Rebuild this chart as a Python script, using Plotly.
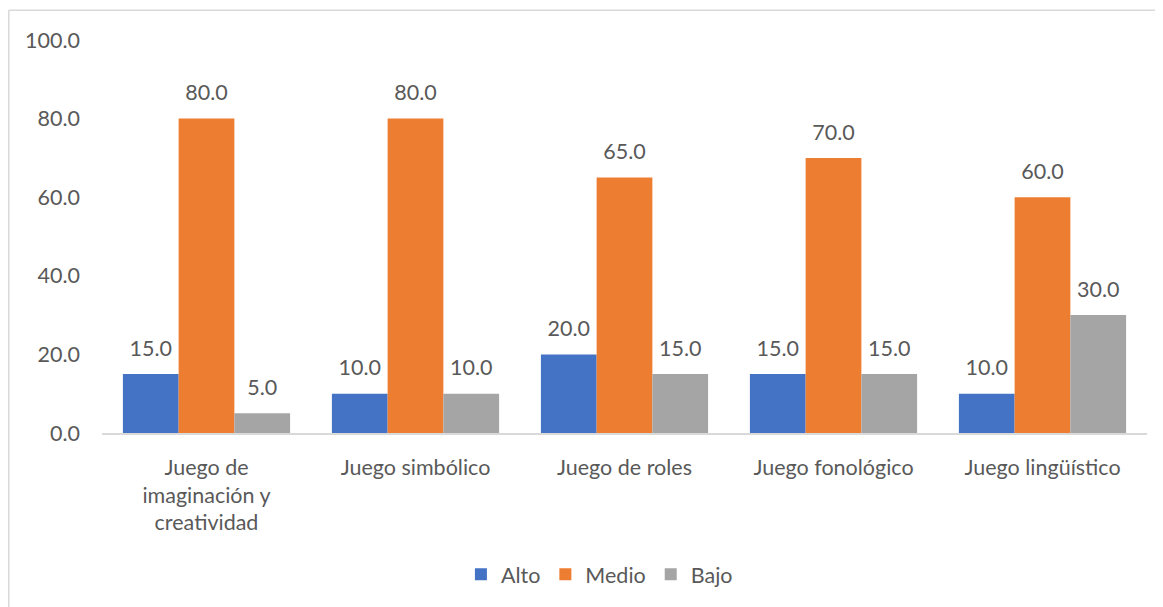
import plotly.graph_objects as go

categories = ["Juego de<br>imaginación y<br>creatividad", "Juego simbólico", "Juego de roles",
              "Juego fonológico", "Juego lingüístico"]
alto = [15.0, 10.0, 20.0, 15.0, 10.0]
medio = [80.0, 80.0, 65.0, 70.0, 60.0]
bajo = [5.0, 10.0, 15.0, 15.0, 30.0]
series_names = ["Alto", "Medio", "Bajo"]
colors = ["#4472C4", "#ED7D31", "#A5A5A5"]

FONT = "Lato"
FS = 21.5
TXT = "#595959"
LABEL_PAD = 2.6  # invisible spacer (axis units) between bar top and its value label

fig = go.Figure()
for name, vals, col in zip(series_names, [alto, medio, bajo], colors):
    fig.add_trace(go.Bar(
        x=categories, y=vals, name=name, marker_color=col,
        marker_line_width=0, offsetgroup=name, hoverinfo="x+y+name",
    ))
for name, vals in zip(series_names, [alto, medio, bajo]):
    fig.add_trace(go.Bar(
        x=categories, y=[LABEL_PAD] * len(vals), base=vals, offsetgroup=name,
        marker_color="rgba(0,0,0,0)", marker_line_width=0, showlegend=False,
        hoverinfo="skip",
        text=[f"{v:.1f}" for v in vals], textposition="outside",
        textfont=dict(family=FONT, size=FS, color=TXT),
        cliponaxis=False,
    ))

W, H = 1155, 599
L, R, T, B = 94, 16, 32, 172
pw, ph = W - L - R, H - T - B

fig.update_layout(
    width=W, height=H,
    margin=dict(l=L, r=R, t=T, b=B),
    paper_bgcolor="white", plot_bgcolor="white",
    barmode="group", bargap=0.2, bargroupgap=0,
    font=dict(family=FONT, size=FS, color=TXT),
    showlegend=True,
    legend=dict(orientation="h", x=0.476, xanchor="center",
                y=-(569 - (T + ph)) / ph, yanchor="middle",
                font=dict(family=FONT, size=FS, color=TXT),
                traceorder="normal"),
    xaxis=dict(showline=True, linecolor="#D9D9D9", linewidth=1.5,
               showgrid=False, ticks="", ticklabelstandoff=14,
               tickfont=dict(family=FONT, size=FS, color=TXT)),
    yaxis=dict(range=[0, 100], tickvals=[0, 20, 40, 60, 80, 100], tickformat=".1f",
               showgrid=False, showline=False, zeroline=False, ticks="",
               ticklabelstandoff=21,
               tickfont=dict(family=FONT, size=FS, color=TXT)),
    shapes=[
        dict(type="line", xref="paper", yref="paper",
             x0=(0.75 - L) / pw, x1=(0.75 - L) / pw, y0=-(H - T - ph) / ph - 0.1, y1=1 + (T - 2) / ph,
             line=dict(color="#D9D9D9", width=1.5)),
        dict(type="line", xref="paper", yref="paper",
             x0=(0.75 - L) / pw, x1=1.2, y0=1 + (T - 2) / ph, y1=1 + (T - 2) / ph,
             line=dict(color="#D9D9D9", width=1.5)),
    ],
)

fig.write_html("out.html")
